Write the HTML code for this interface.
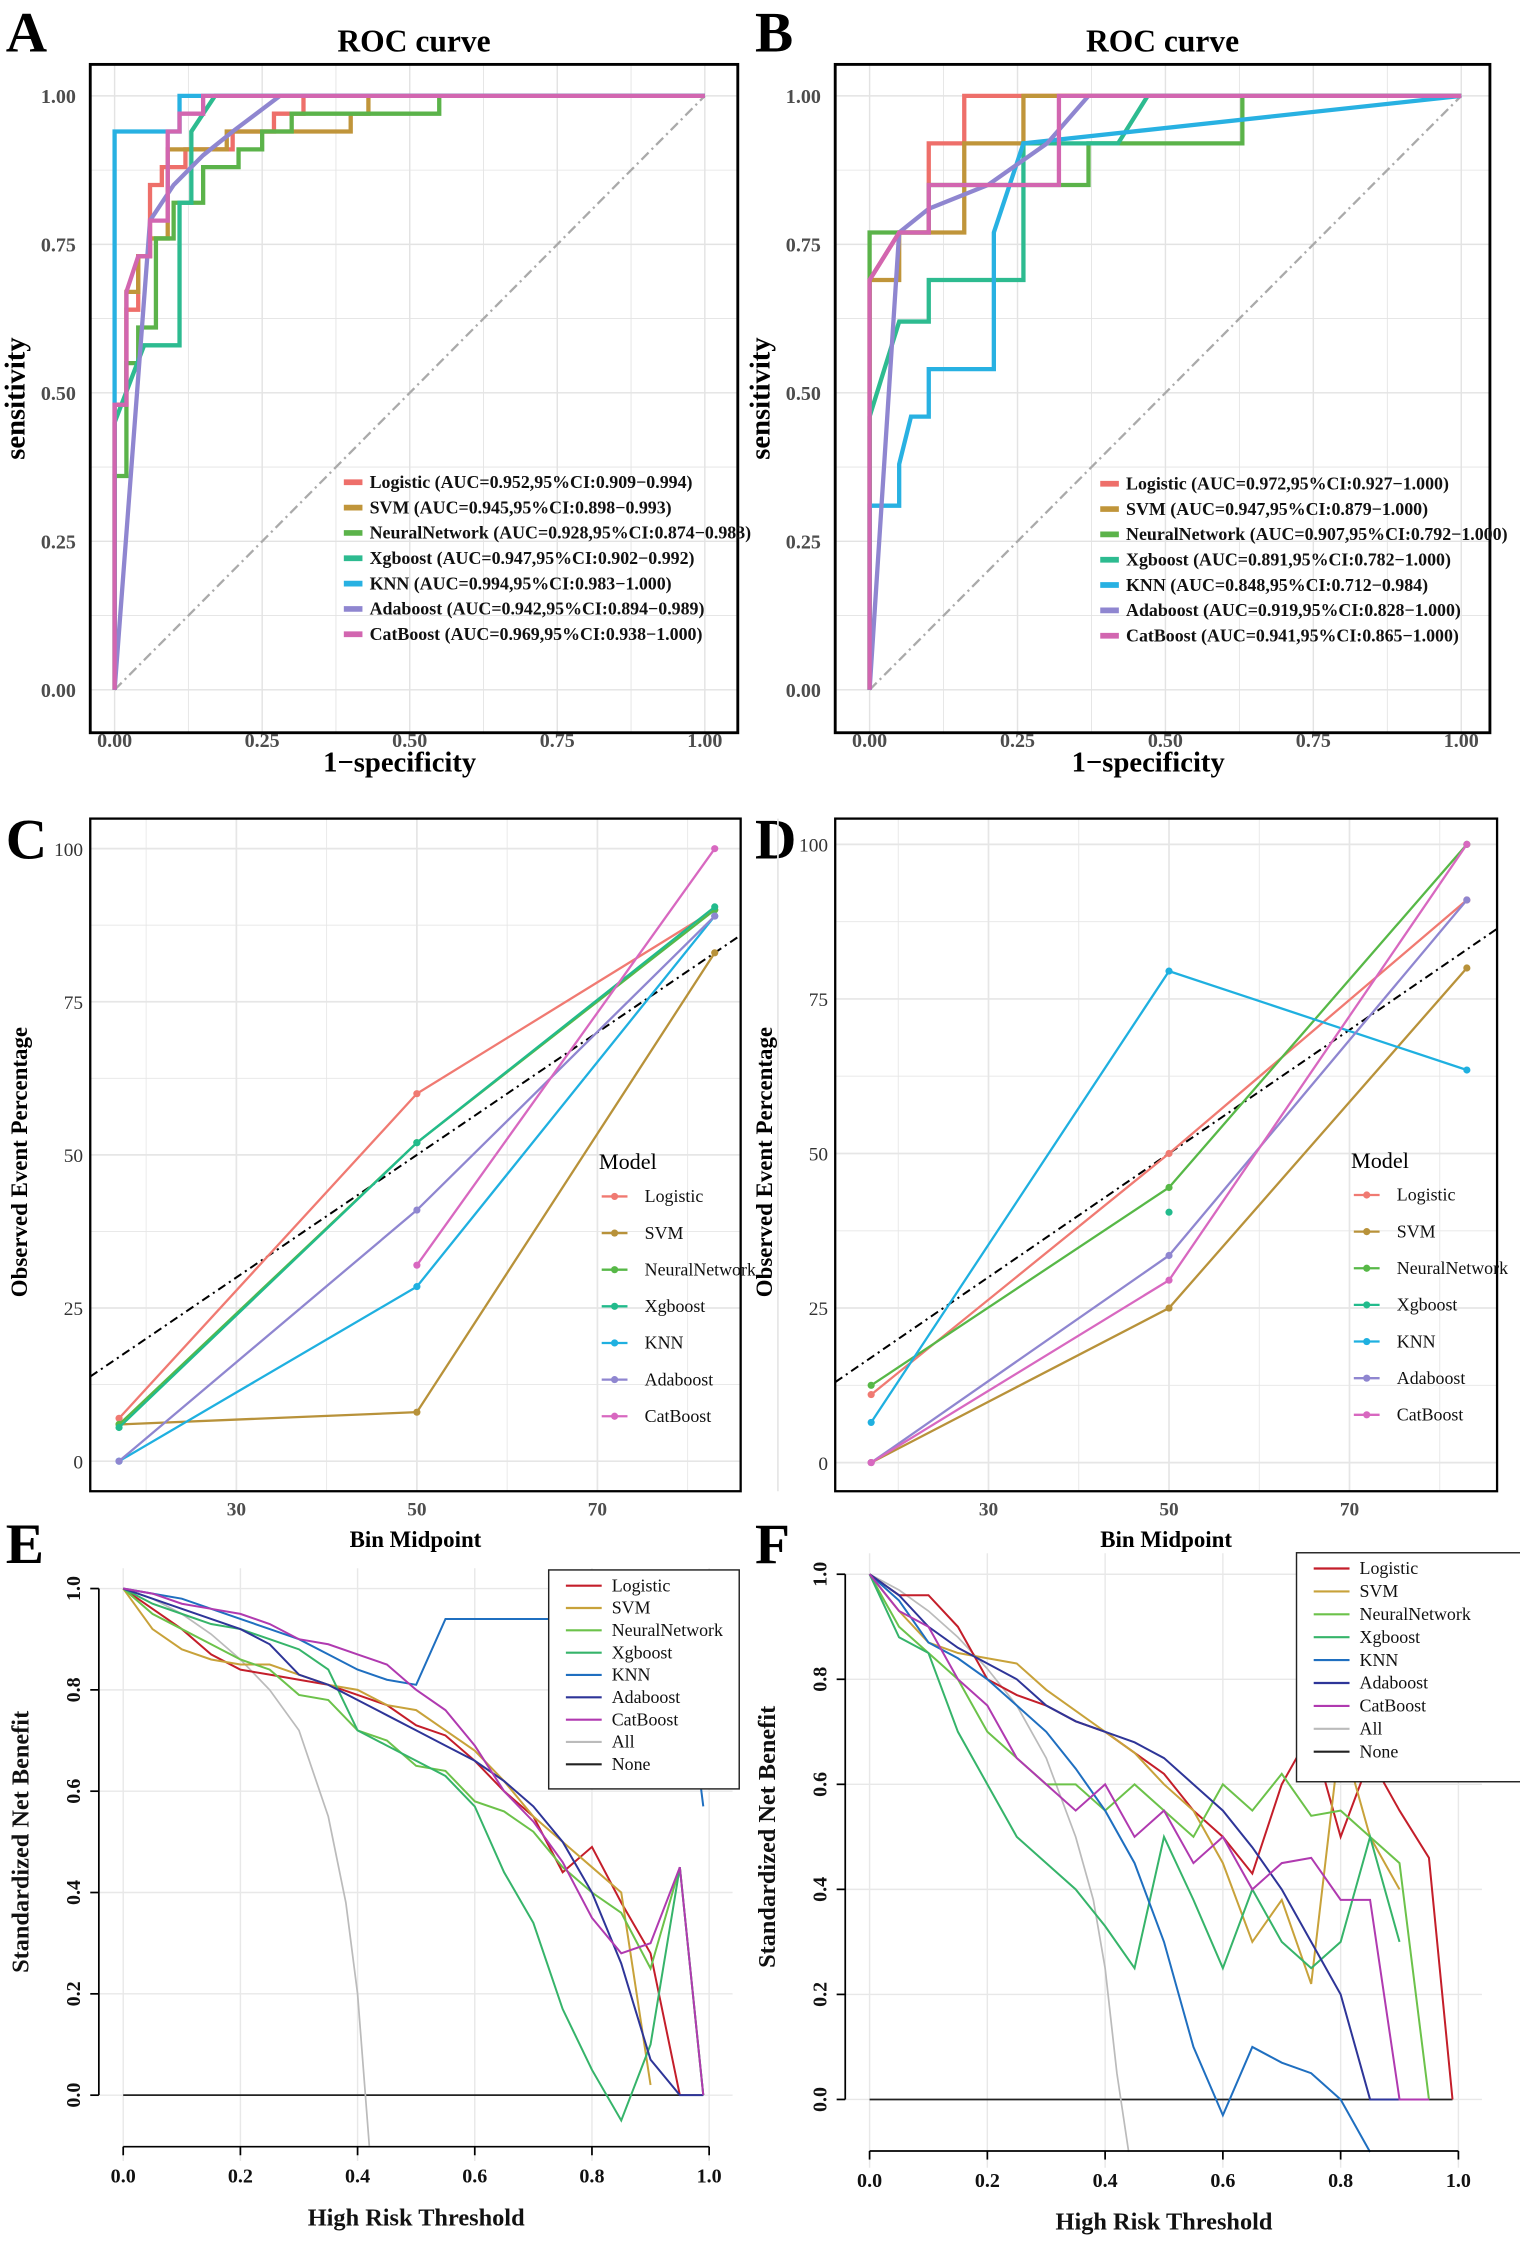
<!DOCTYPE html>
<html><head><meta charset="utf-8">
<style>
html,body{margin:0;padding:0;background:#fff;}
svg{display:block;}
text{font-family:"Liberation Serif",serif;}
</style></head>
<body>
<svg id="fig" xmlns="http://www.w3.org/2000/svg" width="1520" height="2244" viewBox="0 0 1061 1568" preserveAspectRatio="none">
<rect x="0" y="0" width="1061" height="1568" fill="#fff"/>
<g font-weight="bold" font-size="40">
<text x="4" y="36">A</text>
<text x="527" y="36">B</text>
<text x="4" y="600">C</text>
<text x="527" y="600">D</text>
<text x="4" y="1092">E</text>
<text x="527" y="1092">F</text>
</g>
<g id="layer"></g>
</svg>
<script>
// ---------- ROC data ----------
const rocModels=["Logistic","SVM","NeuralNetwork","Xgboost","KNN","Adaboost","CatBoost"];
const rocColors=["#ee6f6a","#c0953a","#5bb34a","#2dbb90","#28b1e2","#8f86d0","#d266b0"];
const aucA=["Logistic (AUC=0.952,95%CI:0.909\u22120.994)","SVM (AUC=0.945,95%CI:0.898\u22120.993)","NeuralNetwork (AUC=0.928,95%CI:0.874\u22120.983)","Xgboost (AUC=0.947,95%CI:0.902\u22120.992)","KNN (AUC=0.994,95%CI:0.983\u22121.000)","Adaboost (AUC=0.942,95%CI:0.894\u22120.989)","CatBoost (AUC=0.969,95%CI:0.938\u22121.000)"];
const aucB=["Logistic (AUC=0.972,95%CI:0.927\u22121.000)","SVM (AUC=0.947,95%CI:0.879\u22121.000)","NeuralNetwork (AUC=0.907,95%CI:0.792\u22121.000)","Xgboost (AUC=0.891,95%CI:0.782\u22121.000)","KNN (AUC=0.848,95%CI:0.712\u22120.984)","Adaboost (AUC=0.919,95%CI:0.828\u22121.000)","CatBoost (AUC=0.941,95%CI:0.865\u22121.000)"];
const rocTicks=["0.00","0.25","0.50","0.75","1.00"];
const rocAfpr=[
[0,0,0.02,0.02,0.04,0.04,0.06,0.06,0.08,0.08,0.12,0.12,0.2,0.2,0.27,0.27,0.32,0.32,1],
[0,0,0.02,0.02,0.04,0.04,0.06,0.06,0.09,0.09,0.19,0.19,0.4,0.4,0.43,0.43,1],
[0,0,0.02,0.02,0.04,0.04,0.07,0.07,0.1,0.1,0.15,0.15,0.21,0.21,0.25,0.25,0.3,0.3,0.55,0.55,1],
[0,0,0.05,0.11,0.11,0.13,0.13,0.17,1],
[0,0,0.11,0.11,1],
[0,0.06,0.1,0.15,0.2,0.28,1],
[0,0,0.02,0.02,0.04,0.06,0.06,0.09,0.09,0.11,0.11,0.15,0.15,1]];
const rocAtpr=[
[0,0.48,0.48,0.64,0.64,0.73,0.73,0.85,0.85,0.88,0.88,0.91,0.91,0.94,0.94,0.97,0.97,1,1],
[0,0.48,0.48,0.67,0.67,0.73,0.73,0.76,0.76,0.91,0.91,0.94,0.94,0.97,0.97,1,1],
[0,0.36,0.36,0.55,0.55,0.61,0.61,0.76,0.76,0.82,0.82,0.88,0.88,0.91,0.91,0.94,0.94,0.97,0.97,1,1],
[0,0.45,0.58,0.58,0.82,0.82,0.94,1,1],
[0,0.94,0.94,1,1],
[0,0.79,0.85,0.9,0.94,1,1],
[0,0.48,0.48,0.67,0.73,0.73,0.79,0.79,0.94,0.94,0.97,0.97,1,1]];
const rocBfpr=[
[0,0,0.05,0.1,0.1,0.16,0.16,1],
[0,0,0.05,0.05,0.16,0.16,0.26,0.26,1],
[0,0,0.1,0.1,0.37,0.37,0.63,0.63,1],
[0,0,0.05,0.1,0.1,0.26,0.26,0.42,0.47,1],
[0,0,0.05,0.05,0.07,0.1,0.1,0.21,0.21,0.26,1],
[0,0.05,0.1,0.2,0.3,0.37,1],
[0,0,0.05,0.1,0.1,0.32,0.32,1]];
const rocBtpr=[
[0,0.69,0.77,0.77,0.92,0.92,1,1],
[0,0.69,0.69,0.77,0.77,0.92,0.92,1,1],
[0,0.77,0.77,0.85,0.85,0.92,0.92,1,1],
[0,0.46,0.62,0.62,0.69,0.69,0.92,0.92,1,1],
[0,0.31,0.31,0.38,0.46,0.46,0.54,0.54,0.77,0.92,1],
[0,0.77,0.81,0.85,0.92,1,1],
[0,0.69,0.77,0.77,0.85,0.85,1,1]];
// ---------- Calibration data ----------
const binMid=[17,50,83];
const calTicksX=[30,50,70];
const calTicksY=[0,25,50,75,100];
const calColors=["#f07a72","#b8923a","#57b847","#22bb8c","#1fb0e0","#8f86d0","#d868c0"];
const calC=[[7,60,90],[6,8,83],[6,52,90],[5.5,52,90.5],[0,28.5,89],[0,41,89],[null,32,100]];
const calD=[[11,50,91],[0,25,80],[12.5,44.5,100],[null,40.5,null],[6.5,79.5,63.5],[0,33.5,91],[0,29.5,100]];
// ---------- DCA data ----------
const dcaModels=["Logistic","SVM","NeuralNetwork","Xgboost","KNN","Adaboost","CatBoost","All","None"];
const dcaColors=["#c41e2a","#c8a23a","#6cc24a","#36b46a","#1f6fc0","#2e3598","#b03ab0","#bbbbbb","#222222"];
const thr=[0,0.05,0.1,0.15,0.2,0.25,0.3,0.35,0.4,0.45,0.5,0.55,0.6,0.65,0.7,0.75,0.8,0.85,0.9,0.95,0.99];
const dcaE=[
[1,0.96,0.92,0.87,0.84,0.83,0.82,0.81,0.79,0.77,0.73,0.71,0.66,0.6,0.55,0.44,0.49,0.38,0.28,0,null],
[1,0.92,0.88,0.86,0.85,0.85,0.83,0.81,0.8,0.77,0.76,0.72,0.68,0.62,0.55,0.5,0.45,0.4,0.02,null,null],
[1,0.95,0.92,0.89,0.86,0.84,0.79,0.78,0.72,0.7,0.65,0.64,0.58,0.56,0.52,0.45,0.4,0.36,0.25,0.45,0],
[1,0.97,0.95,0.93,0.92,0.9,0.88,0.84,0.72,0.69,0.66,0.63,0.57,0.44,0.34,0.17,0.05,-0.05,0.1,0.45,0],
[1,0.99,0.98,0.96,0.94,0.92,0.9,0.87,0.84,0.82,0.81,0.94,0.94,0.94,0.94,0.94,0.94,0.94,0.94,0.94,0.57],
[1,0.98,0.96,0.94,0.92,0.89,0.83,0.81,0.78,0.75,0.72,0.69,0.66,0.62,0.57,0.5,0.4,0.26,0.07,0,0],
[1,0.99,0.97,0.96,0.95,0.93,0.9,0.89,0.87,0.85,0.8,0.76,0.69,0.6,0.54,0.46,0.35,0.28,0.3,0.45,0]];
const dcaF=[
[1,0.96,0.96,0.9,0.8,0.77,0.75,0.72,0.7,0.66,0.62,0.55,0.5,0.43,0.6,0.7,0.5,0.65,0.55,0.46,0],
[1,0.93,0.87,0.85,0.84,0.83,0.78,0.74,0.7,0.66,0.6,0.55,0.45,0.3,0.38,0.22,0.7,0.5,0.4,null,null],
[1,0.9,0.85,0.8,0.7,0.65,0.6,0.6,0.55,0.6,0.55,0.5,0.6,0.55,0.62,0.54,0.55,0.5,0.45,0,null],
[1,0.88,0.85,0.7,0.6,0.5,0.45,0.4,0.33,0.25,0.5,0.38,0.25,0.4,0.3,0.25,0.3,0.5,0.3,null,null],
[1,0.95,0.87,0.84,0.8,0.75,0.7,0.63,0.55,0.45,0.3,0.1,-0.03,0.1,0.07,0.05,0,-0.1,null,null,null],
[1,0.96,0.9,0.86,0.83,0.8,0.75,0.72,0.7,0.68,0.65,0.6,0.55,0.48,0.4,0.3,0.2,0,0,null,null],
[1,0.93,0.9,0.8,0.75,0.65,0.6,0.55,0.6,0.5,0.55,0.45,0.5,0.4,0.45,0.46,0.38,0.38,0,0,null]];
const allThrE=[0,0.05,0.1,0.15,0.2,0.25,0.3,0.35,0.38,0.4,0.41,0.42];
const allValE=[1,0.98,0.95,0.91,0.86,0.8,0.72,0.55,0.38,0.2,0.05,-0.1];
const allThrF=[0,0.05,0.1,0.15,0.2,0.25,0.3,0.35,0.38,0.4,0.42,0.44];
const allValF=[1,0.97,0.93,0.88,0.82,0.75,0.65,0.5,0.38,0.25,0.05,-0.1];
const dcaTicksX=[0,0.2,0.4,0.6,0.8,1.0];
const dcaTicksY=[0,0.2,0.4,0.6,0.8,1.0];

// ---------- drawing ----------
const NS="http://www.w3.org/2000/svg";
const layer=document.getElementById("layer");
function mk(tag,parent){const e=document.createElementNS(NS,tag);parent.appendChild(e);return e;}
function lin(p0,v0,p1,v1){return v=>p0+(v-v0)*(p1-p0)/(v1-v0);}
function pathFrom(xs,ys,sx,sy){let d="",pen=false;for(let i=0;i<xs.length;i++){if(ys[i]===null||xs[i]===null){pen=false;continue;}d+=(pen?"L":"M")+sx(xs[i]).toFixed(2)+","+sy(ys[i]).toFixed(2);pen=true;}return d;}
function txt(parent,x,y,s,size,weight,anchor,fill){const t=mk("text",parent);t.setAttribute("x",x);t.setAttribute("y",y);t.setAttribute("font-size",size);t.setAttribute("font-weight",weight);t.setAttribute("text-anchor",anchor);t.setAttribute("fill",fill);t.textContent=s;return t;}
function ln(parent,x1,y1,x2,y2,stroke,w){const l=mk("line",parent);l.setAttribute("x1",x1);l.setAttribute("y1",y1);l.setAttribute("x2",x2);l.setAttribute("y2",y2);l.setAttribute("stroke",stroke);l.setAttribute("stroke-width",w);return l;}

function rocPanel(id,fx,fy,fw,fh,x0,x1,y0,y1,fpr,tpr,labels,legX,legY){
  const g=mk("g",layer);
  
  
  const sx=lin(x0,0,x1,1), sy=lin(y0,0,y1,1);
  for(let v=0;v<=1.0001;v+=0.125){
    const gx=ln(g,sx(v),fy,sx(v),fy+fh,"#e3e3e3",v*8%2?0.6:1);
    
    
    const gy=ln(g,fx,sy(v),fx+fw,sy(v),"#e3e3e3",v*8%2?0.6:1);
    
    
  }
  const diag=ln(g,sx(0),sy(0),sx(1),sy(1),"#aaaaaa",1.6);
  diag.setAttribute("stroke-dasharray","7,3,1.5,3");
  
  
  for(let i=0;i<fpr.length;i++){
    const p=mk("path",g);
    p.setAttribute("d",pathFrom(fpr[i],tpr[i],sx,sy));
    p.setAttribute("fill","none");p.setAttribute("stroke",rocColors[i]);p.setAttribute("stroke-width",3);
    
    
  }
  const fr=mk("rect",g);fr.setAttribute("x",fx);fr.setAttribute("y",fy);fr.setAttribute("width",fw);fr.setAttribute("height",fh);fr.setAttribute("fill","none");fr.setAttribute("stroke","#000");fr.setAttribute("stroke-width",2);
  
  
  for(let i=0;i<rocTicks.length;i++){
    const v=i*0.25;
    const tx=txt(g,sx(v),fy+fh+10,rocTicks[i],14,"bold","middle","#4d4d4d");
    
    
    const ty=txt(g,fx-10,sy(v)+5,rocTicks[i],14,"bold","end","#4d4d4d");
    
    
  }
  const tt=txt(g,fx+fw/2,36,"ROC curve",22,"bold","middle","#000");
  
  
  const xt=txt(g,fx+fw/2-10,fy+fh+27,"1\u2212specificity",20,"bold","middle","#000");
  
  
  const yt=txt(g,0,0,"sensitivity",20,"bold","middle","#000");
  yt.setAttribute("transform","translate("+(fx-46)+","+(fy+fh/2)+") rotate(-90)");
  
  
  for(let i=0;i<labels.length;i++){
    const yy=legY+i*17.7;
    const lk=ln(g,legX,yy-4,legX+13,yy-4,rocColors[i],4);
    
    
    const lt=txt(g,legX+18,yy,labels[i],12.5,"bold","start","#111");
    
    
  }
}
rocPanel("a",63,45,452,467,80,492,482,67,rocAfpr,rocAtpr,aucA,240,341);
rocPanel("b",583,45,457,467,607,1020,482,67,rocBfpr,rocBtpr,aucB,768,342);

function calPanel(id,fx,fy,fw,fh,p30,p70,py0,py100,vals,legX,legY){
  const g=mk("g",layer);
  
  
  const sx=lin(p30,30,p70,70), sy=lin(py0,0,py100,100);
  for(let v=20;v<=90;v+=10){
    const gl=ln(g,sx(v),fy,sx(v),fy+fh,"#e6e6e6",v%20?1.2:0.6);
    
    
  }
  for(let v=0;v<=100;v+=12.5){
    const gl=ln(g,fx,sy(v),fx+fw,sy(v),"#e6e6e6",v%25?0.6:1.2);
    
    
  }
  const xa=(fx-p30)/(p70-p30)*40+30, xb=(fx+fw-p30)/(p70-p30)*40+30;
  const d=ln(g,fx,sy(xa),fx+fw,sy(xb),"#000",1.4);
  d.setAttribute("stroke-dasharray","6,3,1.5,3");
  
  
  for(let i=0;i<vals.length;i++){
    const p=mk("path",g);
    p.setAttribute("d",pathFrom(binMid,vals[i],sx,sy));
    p.setAttribute("fill","none");p.setAttribute("stroke",calColors[i]);p.setAttribute("stroke-width",1.6);
    
    
    for(let j=0;j<binMid.length;j++){ if(vals[i][j]===null) continue;
      const c=mk("circle",g);c.setAttribute("cx",sx(binMid[j]));c.setAttribute("cy",sy(vals[i][j]));c.setAttribute("r",2.5);c.setAttribute("fill",calColors[i]);
      
      
    }
  }
  const fr=mk("rect",g);fr.setAttribute("x",fx);fr.setAttribute("y",fy);fr.setAttribute("width",fw);fr.setAttribute("height",fh);fr.setAttribute("fill","none");fr.setAttribute("stroke","#000");fr.setAttribute("stroke-width",1.6);
  
  
  for(const v of calTicksX){const t=txt(g,sx(v),fy+fh+17,String(v),13.5,"bold","middle","#4d4d4d");
    
    }
  for(const v of calTicksY){const t=txt(g,fx-5,sy(v)+5,String(v),13.5,"normal","end","#333");
    
    }
  const xt=txt(g,fx+fw/2,fy+fh+39,"Bin Midpoint",16,"bold","middle","#000");
  
  
  const yt=txt(g,0,0,"Observed Event Percentage",16,"bold","middle","#000");
  yt.setAttribute("transform","translate("+(fx-44)+","+(fy+fh/2+5)+") rotate(-90)");
  
  
  const mt=txt(g,legX,legY-23,"Model",15.5,"normal","start","#000");
  
  
  for(let i=0;i<rocModels.length;i++){
    const yy=legY+i*25.6;
    const lk=ln(g,legX+2,yy-4,legX+20,yy-4,calColors[i],1.6);
    
    
    const c=mk("circle",g);c.setAttribute("cx",legX+11);c.setAttribute("cy",yy-4);c.setAttribute("r",2.5);c.setAttribute("fill",calColors[i]);
    
    
    const lt=txt(g,legX+32,yy,rocModels[i],12.5,"normal","start","#111");
    
    
  }
}
calPanel("c",63,572,454,470,165,417,1021,593,calC,418,840);
calPanel("d",583,572,462,470,690,942,1022,590,calD,943,839);

function dcaPanel(id,ax,ay,x0,x1,y0,y1,vals,allT,allV,bx,by,bw,bh,lineGap){
  const g=mk("g",layer);
  
  
  const sx=lin(x0,0,x1,1), sy=lin(y0,0,y1,1);
  const top=sy(1.04), right=sx(1.04);
  for(const v of dcaTicksX){const l=ln(g,sx(v),top,sx(v),sy(-0.13),"#e8e8e8",1);
    
    }
  for(const v of dcaTicksY){const l=ln(g,sx(-0.04),sy(v),right,sy(v),"#e8e8e8",1);
    
    }
  const none=ln(g,sx(0),sy(0),sx(0.99),sy(0),dcaColors[8],1.2);
  
  
  const pa=mk("path",g);pa.setAttribute("d",pathFrom(allT,allV,sx,sy));pa.setAttribute("fill","none");pa.setAttribute("stroke",dcaColors[7]);pa.setAttribute("stroke-width",1.2);
  
  
  for(let i=0;i<vals.length;i++){
    const p=mk("path",g);
    p.setAttribute("d",pathFrom(thr,vals[i],sx,sy));
    p.setAttribute("fill","none");p.setAttribute("stroke",dcaColors[i]);p.setAttribute("stroke-width",1.4);
    
    
  }
  const xa=ln(g,sx(0),ay,sx(1),ay,"#000",1.2);
  
  
  const ya=ln(g,ax,sy(0),ax,sy(1),"#000",1.2);
  
  
  for(const v of dcaTicksX){
    const tk=ln(g,sx(v),ay,sx(v),ay+6,"#000",1.2);
    
    
    const t=txt(g,sx(v),ay+25,v.toFixed(1),14,"bold","middle","#111");
    
    
  }
  for(const v of dcaTicksY){
    const tk=ln(g,ax,sy(v),ax-6,sy(v),"#000",1.2);
    
    
    const t=txt(g,0,0,v.toFixed(1),14,"bold","middle","#111");
    t.setAttribute("transform","translate("+(ax-13)+","+sy(v)+") rotate(-90)");
    
    
  }
  const xt=txt(g,(sx(0)+sx(1))/2,ay+55,"High Risk Threshold",17,"bold","middle","#111");
  
  
  const yt=txt(g,0,0,"Standardized Net Benefit",17,"bold","middle","#111");
  yt.setAttribute("transform","translate("+(ax-49)+","+((sy(0)+sy(1))/2)+") rotate(-90)");
  
  
  const box=mk("rect",g);box.setAttribute("x",bx);box.setAttribute("y",by);box.setAttribute("width",bw);box.setAttribute("height",bh);box.setAttribute("fill","#fff");box.setAttribute("stroke","#222");box.setAttribute("stroke-width",1);
  
  
  for(let i=0;i<dcaModels.length;i++){
    const yy=by+15+i*lineGap;
    const lk=ln(g,bx+12,yy-4,bx+37,yy-4,dcaColors[i],1.5);
    
    
    const lt=txt(g,bx+44,yy,dcaModels[i],12.5,"normal","start","#111");
    
    
  }
}
dcaPanel("e",69,1500,86,495,1464,1110,dcaE,allThrE,allValE,383,1097,133,153,15.6);
dcaPanel("f",590,1503,607,1018,1467,1100,dcaF,allThrF,allValF,905,1085,160,160,16);
</script>
</body></html>
